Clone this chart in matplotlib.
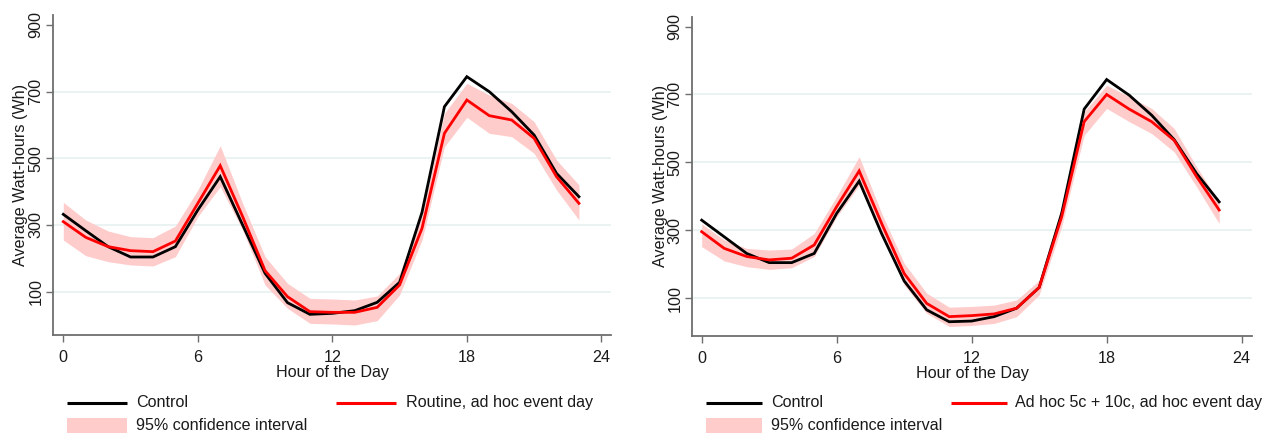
import matplotlib
matplotlib.use("Agg")
import matplotlib.pyplot as plt
from matplotlib.lines import Line2D
from matplotlib.patches import Rectangle

plt.rcParams['font.family'] = ['Liberation Sans', 'DejaVu Sans']

hours = list(range(24))

# Left panel: Routine, ad hoc event day
control_left = [332, 283, 235, 204, 204, 235, 345, 445, 300, 155, 67, 32, 35, 43, 68, 128,
                338, 655, 745, 700, 640, 570, 455, 385]
treat_left = [310, 263, 235, 223, 220, 252, 365, 478, 325, 163, 85, 40, 38, 38, 53, 120,
              290, 575, 675, 628, 615, 560, 445, 365]
ci_low_left = [255, 208, 190, 180, 177, 205, 325, 415, 285, 120, 50, 5, 3, 0, 13, 90,
               255, 535, 623, 575, 565, 515, 405, 315]
ci_high_left = [368, 315, 282, 265, 262, 297, 405, 538, 365, 205, 125, 80, 78, 75, 87, 155,
                330, 635, 725, 690, 665, 610, 495, 420]

# Right panel: Ad hoc 5c + 10c, ad hoc event day
control_right = [330, 281, 232, 205, 205, 232, 350, 445, 290, 151, 66, 31, 33, 46, 71, 132,
                 350, 657, 744, 698, 639, 567, 467, 384]
treat_right = [296, 247, 223, 213, 218, 257, 370, 475, 320, 173, 85, 46, 49, 54, 71, 132,
               340, 620, 700, 657, 620, 565, 458, 360]
ci_low_right = [252, 210, 193, 185, 190, 223, 340, 433, 286, 139, 56, 17, 20, 26, 46, 110,
                311, 580, 659, 620, 585, 531, 428, 320]
ci_high_right = [319, 272, 247, 242, 245, 291, 400, 517, 350, 203, 115, 74, 76, 80, 95, 153,
                 370, 649, 727, 694, 659, 600, 487, 384]

xticks = [0, 6, 12, 18, 24]
yticks = [100, 300, 500, 700, 900]
treat_labels = ["Routine, ad hoc event day", "Ad hoc 5c + 10c, ad hoc event day"]

W, H = 1271, 434
fig = plt.figure(figsize=(W / 100, H / 100), dpi=100)

RED = '#FF0000'
BAND = '#FFCCCC'
GRID = '#E8F0F0'
SPINE = '#6E6E6E'
TXT = '#1A1A1A'
FS = 11.6

panels = [
    dict(rect=(53.3, 15, 611, 335), xlim=(-0.446, 24.43), ylim=(-30, 930),
         c=control_left, t=treat_left, lo=ci_low_left, hi=ci_high_left, lab=treat_labels[0],
         leg_x=67, leg_len=60, red_x=336, red_tx=406, ylab_x=-0.045),
    dict(rect=(692.3, 16.7, 1252, 336), xlim=(-0.418, 24.46), ylim=(-11, 929),
         c=control_right, t=treat_right, lo=ci_low_right, hi=ci_high_right, lab=treat_labels[1],
         leg_x=706, leg_len=56, red_x=951, red_tx=1015, ylab_x=-0.044),
]

for p in panels:
    x0, y0, x1, y1 = p['rect']
    ax = fig.add_axes([x0 / W, 1 - y1 / H, (x1 - x0) / W, (y1 - y0) / H])
    ax.fill_between(hours, p['lo'], p['hi'], color=BAND, lw=0, zorder=2)
    ax.plot(hours, p['c'], color='black', lw=2.0, zorder=3, solid_joinstyle='miter')
    ax.plot(hours, p['t'], color=RED, lw=2.0, zorder=4, solid_joinstyle='miter')
    ax.set_xlim(*p['xlim'])
    ax.set_ylim(*p['ylim'])
    ax.set_xticks(xticks)
    ax.set_yticks(yticks)
    ax.set_xticklabels([str(v) for v in xticks], fontsize=FS, color=TXT)
    ax.set_yticklabels([str(v) for v in yticks], fontsize=FS, color=TXT, rotation=90, va='center')
    ax.yaxis.grid(True, color=GRID, lw=1.2, zorder=0)
    ax.get_ygridlines()[-1].set_visible(False)
    ax.set_axisbelow(True)
    for s in ['top', 'right']:
        ax.spines[s].set_visible(False)
    for s in ['left', 'bottom']:
        ax.spines[s].set_color(SPINE)
        ax.spines[s].set_linewidth(1.3)
    ax.tick_params(axis='both', colors=SPINE, length=5, width=1.0, labelcolor=TXT)
    ax.tick_params(axis='x', pad=6)
    ax.tick_params(axis='y', pad=2)
    ax.set_xlabel("Hour of the Day", fontsize=FS, color=TXT, labelpad=0)
    ax.set_ylabel("Average Watt-hours (Wh)", fontsize=FS, color=TXT)
    ax.yaxis.set_label_coords(p['ylab_x'], 0.5)

    # legend (manual, figure pixel coords)
    lx = p['leg_x']
    ll = p['leg_len']
    r1 = 1 - 402.7 / H
    r2 = 1 - 425 / H
    fig.add_artist(Line2D([lx / W, (lx + ll) / W], [r1, r1], color='black', lw=2.2,
                          solid_capstyle='butt', transform=fig.transFigure))
    fig.text((lx + ll + 9) / W, r1, "Control", fontsize=FS, color=TXT, va='center', ha='left')
    rx = p['red_x']
    fig.add_artist(Line2D([rx / W, (rx + ll) / W], [r1, r1], color=RED, lw=2.2,
                          solid_capstyle='butt', transform=fig.transFigure))
    fig.text(p['red_tx'] / W, r1, p['lab'], fontsize=FS, color=TXT, va='center', ha='left')
    fig.add_artist(Rectangle((lx / W, 1 - 433.3 / H), ll / W, 15.6 / H, color=BAND, lw=0,
                             transform=fig.transFigure))
    fig.text((lx + ll + 9) / W, r2, "95% confidence interval", fontsize=FS, color=TXT,
             va='center', ha='left')

fig.savefig("out.png", dpi=100, facecolor='white')
